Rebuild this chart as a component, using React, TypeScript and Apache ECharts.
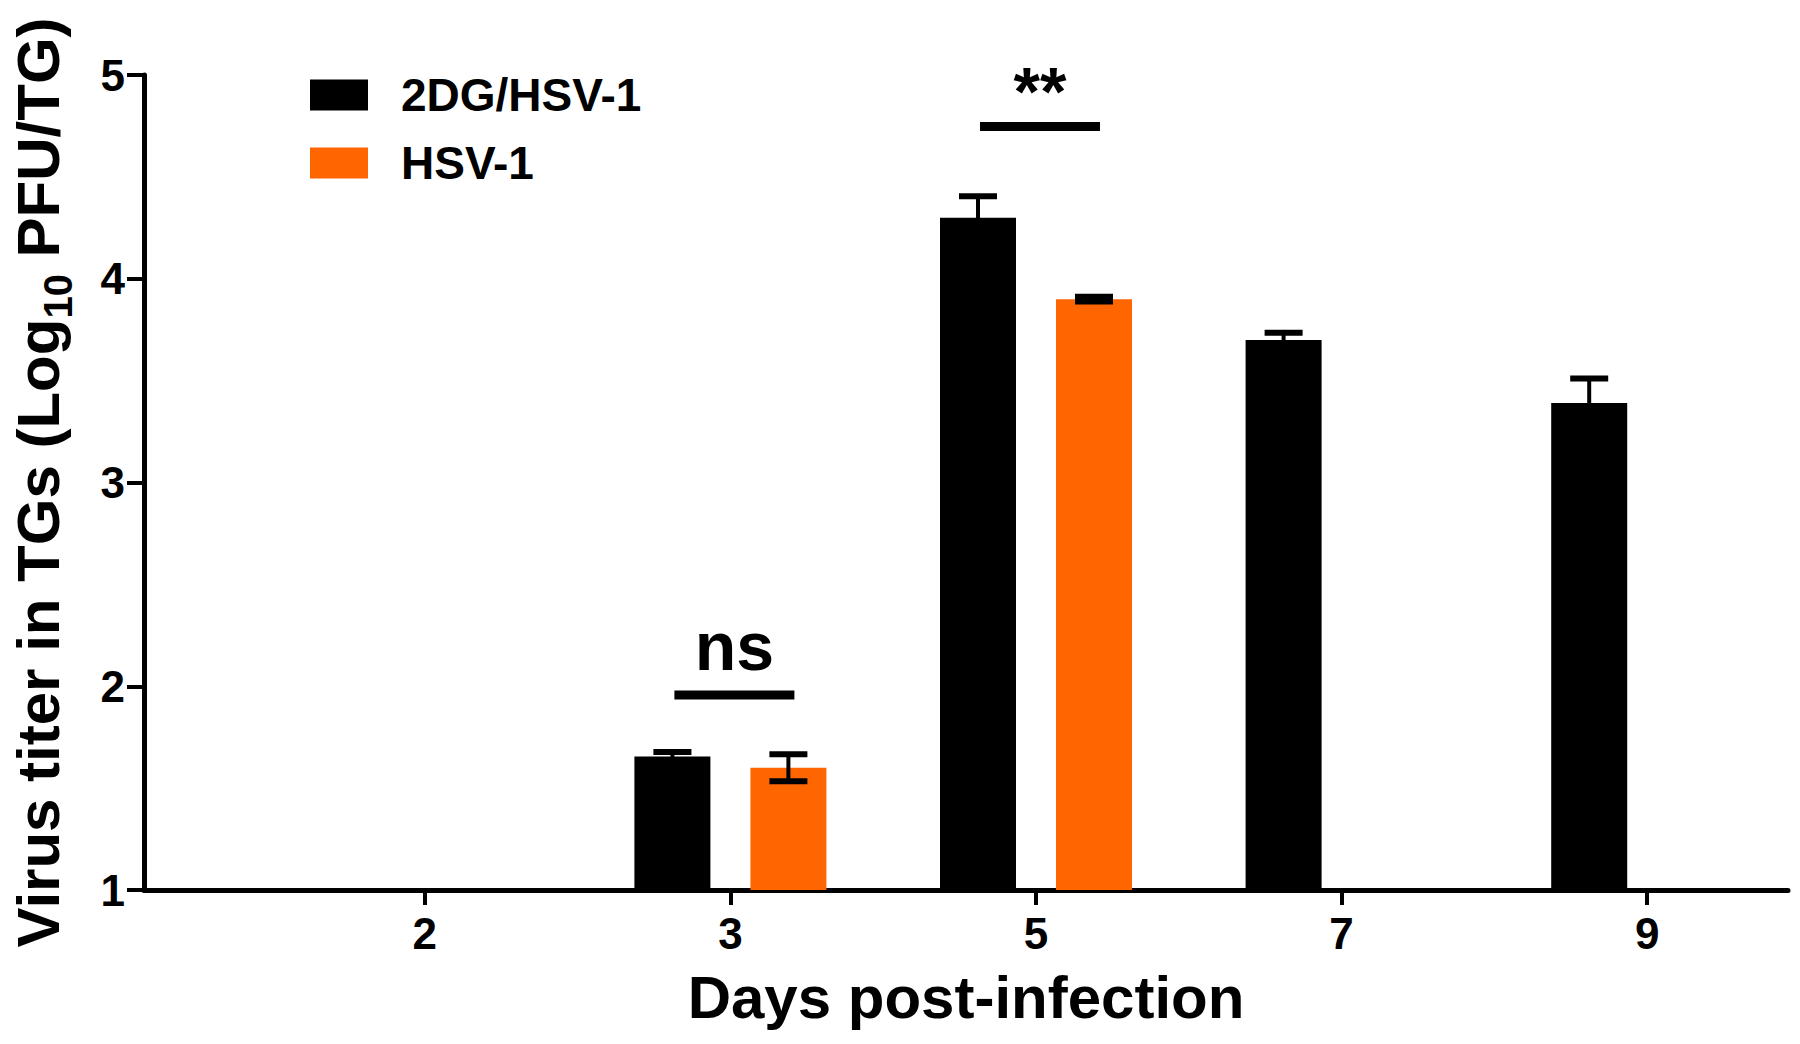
import React, { useEffect, useRef } from "react";
import * as echarts from "echarts";

const days = ["2", "3", "5", "7", "9"];
const seriesNames = ["2DG/HSV-1", "HSV-1"];
const meanTreated = [null, 1.655, 4.3, 3.7, 3.39];
const semTreated = [null, 0.022, 0.105, 0.035, 0.12];
const meanControl = [null, 1.6, 3.9, null, null];
const semControl = [null, 0.066, 0.012, null, null];
const yMin = 1;
const yMax = 5;
const sigLabels = ["ns", "**"];
const sigDayIndex = [1, 2];
const sigLineValue = [1.957, 4.747];
const sigTextValue = [2.198, 4.92];

const SANS = '"Liberation Sans", Arial, Helvetica, sans-serif';
const NARROW = '"Liberation Sans Narrow", "Arial Narrow", "Liberation Sans", sans-serif';
const BAR_W = 76;
const BAR_GAP = 40;
const OFFSET = (BAR_W + BAR_GAP) / 2;
const COLORS = ["#000000", "#FF6600"];

export default function App() {
  const ref = useRef<HTMLDivElement>(null);
  useEffect(() => {
    if (!ref.current) return;
    const chart = echarts.init(ref.current, null, { renderer: "svg" });

    const errData: any[] = [];
    meanTreated.forEach((m, i) => {
      if (m != null) errData.push([i, m, semTreated[i], 0]);
    });
    meanControl.forEach((m, i) => {
      if (m != null) errData.push([i, m, semControl[i], 1]);
    });
    const sigData = sigLabels.map((_, k) => [sigDayIndex[k], sigLineValue[k], sigTextValue[k], k]);

    chart.setOption({
      animation: false,
      backgroundColor: "#ffffff",
      legend: {
        data: seriesNames,
        orient: "vertical",
        left: 305,
        top: 67,
        icon: "rect",
        itemWidth: 58,
        itemHeight: 31,
        itemGap: 22,
        textStyle: {
          fontSize: 46,
          fontWeight: "bold",
          fontFamily: SANS,
          color: "#000",
          padding: [0, 0, 0, 28],
        },
      },
      grid: [
        { left: 272, right: 0, top: 75, bottom: 154 },
        { left: 140, right: 12, top: 75, bottom: 154 },
      ],
      xAxis: [
        {
          gridIndex: 0,
          type: "category",
          data: days,
          axisLine: { show: false },
          axisTick: { show: true, alignWithLabel: true, length: 15, lineStyle: { width: 4, color: "#000" } },
          axisLabel: { fontSize: 44, fontWeight: "bold", fontFamily: NARROW, color: "#000", margin: 21 },
          splitLine: { show: false },
        },
        {
          gridIndex: 1,
          type: "category",
          data: days,
          axisLine: { show: true, lineStyle: { width: 5, color: "#000" } },
          axisTick: { show: false },
          axisLabel: { show: false },
          splitLine: { show: false },
          name: "Days post-infection",
          nameLocation: "middle",
          nameGap: 77,
          nameTextStyle: { fontSize: 60, fontWeight: "bold", fontFamily: SANS, color: "#000" },
        },
      ],
      yAxis: [
        { gridIndex: 0, type: "value", min: yMin, max: yMax, interval: 1, show: false },
        {
          gridIndex: 1,
          type: "value",
          min: yMin,
          max: yMax,
          interval: 1,
          axisLine: { show: true, lineStyle: { width: 5, color: "#000" } },
          axisTick: { show: true, length: 17, lineStyle: { width: 4, color: "#000" } },
          axisLabel: { fontSize: 44, fontWeight: "bold", fontFamily: NARROW, color: "#000", margin: 19 },
          splitLine: { show: false },
          name: "{a|Virus titer in TGs (Log}{s|10}{a| PFU/TG)}",
          nameLocation: "middle",
          nameRotate: 90,
          nameGap: 72,
          nameTextStyle: {
            rich: {
              a: { fontSize: 60, fontWeight: "bold", fontFamily: SANS, color: "#000", lineHeight: 64, verticalAlign: "top" },
              s: { fontSize: 40, fontWeight: "bold", fontFamily: SANS, color: "#000", lineHeight: 40, padding: [30, 0, 0, 0], verticalAlign: "top" },
            },
          },
        },
      ],
      series: [
        {
          name: seriesNames[0],
          type: "bar",
          xAxisIndex: 0,
          yAxisIndex: 0,
          data: meanTreated,
          barWidth: BAR_W,
          barGap: (BAR_GAP / BAR_W) * 100 + "%",
          itemStyle: { color: COLORS[0] },
        },
        {
          name: seriesNames[1],
          type: "bar",
          xAxisIndex: 0,
          yAxisIndex: 0,
          data: meanControl,
          barWidth: BAR_W,
          barGap: (BAR_GAP / BAR_W) * 100 + "%",
          itemStyle: { color: COLORS[1] },
        },
        {
          name: "err",
          type: "custom",
          xAxisIndex: 0,
          yAxisIndex: 0,
          data: errData,
          z: 5,
          renderItem: (params: any, api: any) => {
            const ci = api.value(0);
            const m = api.value(1);
            const e = api.value(2);
            const s = api.value(3);
            const c = api.coord([ci, m]);
            const x = c[0] + (s === 0 ? -OFFSET : OFFSET);
            const top = api.coord([ci, m + e])[1];
            const bot = api.coord([ci, m - e])[1];
            const hw = 19;
            return {
              type: "group",
              children: [
                { type: "line", shape: { x1: x, y1: top, x2: x, y2: bot }, style: { stroke: "#000", lineWidth: 4 } },
                { type: "line", shape: { x1: x - hw, y1: top, x2: x + hw, y2: top }, style: { stroke: "#000", lineWidth: 6 } },
                { type: "line", shape: { x1: x - hw, y1: bot, x2: x + hw, y2: bot }, style: { stroke: "#000", lineWidth: 6 } },
              ],
            };
          },
        },
        {
          name: "sig",
          type: "custom",
          xAxisIndex: 0,
          yAxisIndex: 0,
          data: sigData,
          z: 6,
          renderItem: (params: any, api: any) => {
            const di = api.value(0);
            const lv = api.value(1);
            const tv = api.value(2);
            const k = api.value(3);
            const c = api.coord([di, lv]);
            const ty = api.coord([di, tv])[1];
            const x1 = c[0] - OFFSET + 2;
            const x2 = c[0] + OFFSET + 6;
            return {
              type: "group",
              children: [
                { type: "line", shape: { x1, y1: c[1], x2, y2: c[1] }, style: { stroke: "#000", lineWidth: 9 } },
                {
                  type: "text",
                  x: (x1 + x2) / 2,
                  y: ty,
                  style: {
                    text: sigLabels[k],
                    fontSize: 68,
                    fontWeight: "bold",
                    fontFamily: NARROW,
                    fill: "#000",
                    align: "center",
                    verticalAlign: "middle",
                  },
                },
              ],
            };
          },
        },
      ],
    });
    return () => chart.dispose();
  }, []);
  return (
    <div
      ref={ref}
      style={{ position: "fixed", left: 0, top: 0, width: 1800, height: 1044, background: "#fff" }}
    />
  );
}
